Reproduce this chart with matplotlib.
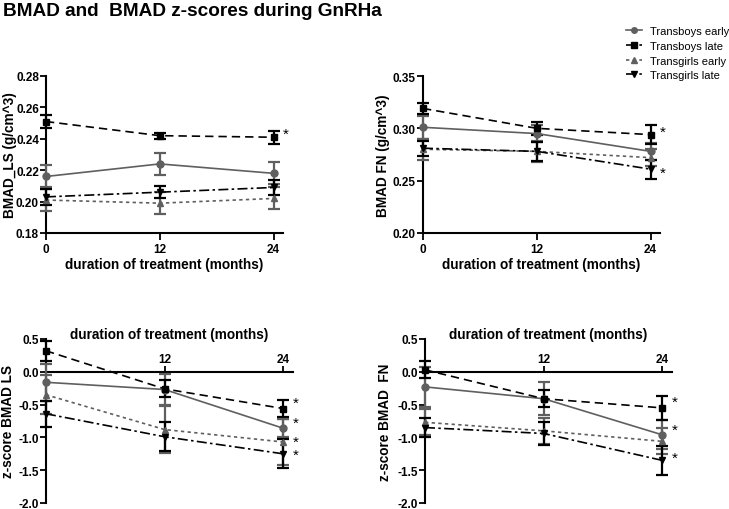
import matplotlib
matplotlib.use("Agg")
import matplotlib.pyplot as plt
import numpy as np
from matplotlib.ticker import FormatStrFormatter
from matplotlib.lines import Line2D

plt.rcParams['font.family'] = ['Liberation Sans', 'DejaVu Sans']
plt.rcParams['axes.unicode_minus'] = False

months = [0, 12, 24]
series_names = ["Transboys early", "Transboys late", "Transgirls early", "Transgirls late"]

# BMAD LS
ls_vals = {
    "Transboys early": [0.216, 0.224, 0.218],
    "Transboys late": [0.251, 0.242, 0.241],
    "Transgirls early": [0.201, 0.199, 0.202],
    "Transgirls late": [0.203, 0.206, 0.209],
}
ls_err = {
    "Transboys early": [0.007, 0.007, 0.007],
    "Transboys late": [0.004, 0.002, 0.004],
    "Transgirls early": [0.007, 0.007, 0.007],
    "Transgirls late": [0.005, 0.004, 0.005],
}
ls_stars = [0.243]

# BMAD FN
fn_vals = {
    "Transboys early": [0.301, 0.295, 0.278],
    "Transboys late": [0.319, 0.300, 0.294],
    "Transgirls early": [0.280, 0.278, 0.272],
    "Transgirls late": [0.281, 0.278, 0.261],
}
fn_err = {
    "Transboys early": [0.011, 0.008, 0.008],
    "Transboys late": [0.005, 0.006, 0.009],
    "Transgirls early": [0.010, 0.010, 0.008],
    "Transgirls late": [0.007, 0.009, 0.009],
}
fn_stars = [0.297, 0.258]

# z-score LS
zls_vals = {
    "Transboys early": [-0.16, -0.27, -0.86],
    "Transboys late": [0.32, -0.26, -0.56],
    "Transgirls early": [-0.35, -0.88, -1.07],
    "Transgirls late": [-0.64, -0.99, -1.25],
}
zls_err = {
    "Transboys early": [0.28, 0.24, 0.14],
    "Transboys late": [0.15, 0.13, 0.13],
    "Transgirls early": [0.30, 0.36, 0.35],
    "Transgirls late": [0.20, 0.22, 0.22],
}
zls_stars = [-0.47, -0.78, -1.06, -1.26]

# z-score FN
zfn_vals = {
    "Transboys early": [-0.23, -0.41, -0.96],
    "Transboys late": [0.03, -0.41, -0.55],
    "Transgirls early": [-0.77, -0.90, -1.06],
    "Transgirls late": [-0.85, -0.94, -1.35],
}
zfn_err = {
    "Transboys early": [0.30, 0.25, 0.22],
    "Transboys late": [0.13, 0.13, 0.18],
    "Transgirls early": [0.20, 0.20, 0.20],
    "Transgirls late": [0.15, 0.18, 0.22],
}
zfn_stars = [-0.46, -0.88, -1.31]

styles = {
    "Transboys early": dict(color="#5f5f5f", marker="o", ls="-", ms=5),
    "Transboys late": dict(color="#000000", marker="s", ls=(0, (5, 3)), ms=5),
    "Transgirls early": dict(color="#5f5f5f", marker="^", ls=(0, (2, 2)), ms=5),
    "Transgirls late": dict(color="#000000", marker="v", ls=(0, (6, 2, 1.5, 2)), ms=5),
}

fig = plt.figure(figsize=(7.29, 5.10), dpi=100)

W, H = 729, 510
def axrect(x0, y0, x1, y1):
    return [x0 / W, 1 - y1 / H, (x1 - x0) / W, (y1 - y0) / H]

ax_tl = fig.add_axes(axrect(46, 77, 283, 234))
ax_tr = fig.add_axes(axrect(423, 77, 660, 234))
ax_bl = fig.add_axes(axrect(46, 340, 293, 504))
ax_br = fig.add_axes(axrect(425, 340, 672, 504))

fs = 8.5
lfs = 9.8

def draw(ax, vals, errs, stars):
    for name in series_names:
        st = styles[name]
        ax.errorbar(months, vals[name], yerr=errs[name], color=st["color"],
                    marker=st["marker"], ms=st["ms"], linestyle=st["ls"], lw=1.2,
                    elinewidth=1.6, capsize=4, capthick=1.6, clip_on=False, zorder=3)
    for s in stars:
        ax.text(25.0, s, "*", fontsize=11, ha="left", va="center")
    for lbl in ax.get_yticklabels() + ax.get_xticklabels():
        lbl.set_fontweight("bold")

def style_top(ax, ylim, yticks, fmt, ylabel, ylx):
    ax.set_xlim(0, 25)
    ax.set_ylim(*ylim)
    ax.set_yticks(yticks)
    ax.set_xticks(months)
    ax.yaxis.set_major_formatter(FormatStrFormatter(fmt))
    ax.spines['top'].set_visible(False)
    ax.spines['right'].set_visible(False)
    ax.spines['left'].set_linewidth(1.5)
    ax.spines['bottom'].set_linewidth(1.5)
    ax.tick_params(width=1.3, length=5, labelsize=fs, pad=2)
    ax.tick_params(axis='y', length=4.5, pad=0.6)
    ax.set_xlabel("duration of treatment (months)", fontsize=lfs, fontweight="bold", labelpad=2)
    ax.set_ylabel(ylabel, fontsize=lfs, fontweight="bold")
    ax.yaxis.set_label_coords(ylx, 0.5)

def style_bottom(ax, ylabel, ylx):
    ax.set_xlim(0, 25)
    ax.set_ylim(-2.0, 0.5)
    ax.set_yticks([0.5, 0.0, -0.5, -1.0, -1.5, -2.0])
    ax.yaxis.set_major_formatter(FormatStrFormatter('%.1f'))
    ax.set_xticks([12, 24])
    ax.spines['bottom'].set_visible(False)
    ax.spines['right'].set_visible(False)
    ax.spines['top'].set_position(('data', 0))
    ax.spines['top'].set_linewidth(1.5)
    ax.spines['left'].set_linewidth(1.5)
    ax.xaxis.set_ticks_position('top')
    ax.xaxis.set_label_position('top')
    ax.tick_params(width=1.3, length=4.5, labelsize=fs, pad=0.6)
    ax.tick_params(axis='x', length=4, pad=1)
    ax.set_xlabel("duration of treatment (months)", fontsize=lfs, fontweight="bold", labelpad=11)
    ax.set_ylabel(ylabel, fontsize=lfs, fontweight="bold")
    ax.yaxis.set_label_coords(ylx, 0.5)

style_top(ax_tl, (0.18, 0.28), [0.18, 0.20, 0.22, 0.24, 0.26, 0.28], '%.2f', "BMAD_LS (g/cm^3)", -0.122)
style_top(ax_tr, (0.20, 0.35), [0.20, 0.25, 0.30, 0.35], '%.2f', "BMAD FN (g/cm^3)", -0.139)
style_bottom(ax_bl, "z-score BMAD LS", -0.125)
style_bottom(ax_br, "z-score BMAD  FN", -0.134)

draw(ax_tl, ls_vals, ls_err, ls_stars)
draw(ax_tr, fn_vals, fn_err, fn_stars)
draw(ax_bl, zls_vals, zls_err, zls_stars)
draw(ax_br, zfn_vals, zfn_err, zfn_stars)

leg_handles = [Line2D([0], [0], color=styles[n]["color"], marker=styles[n]["marker"],
                      linestyle=styles[n]["ls"], lw=1.2, ms=4) for n in series_names]
fig.legend(leg_handles, series_names, loc="upper left", bbox_to_anchor=(623 / W, 1 - 24 / H),
           frameon=False, fontsize=8, handlelength=1.4, labelspacing=0.42, handletextpad=0.7,
           borderaxespad=0, borderpad=0.3)

fig.text(3 / W, 1 - 11 / H, "BMAD and  BMAD z-scores during GnRHa", fontsize=13.7,
         fontweight="bold", ha="left", va="center")

fig.savefig("out.png", dpi=100)
